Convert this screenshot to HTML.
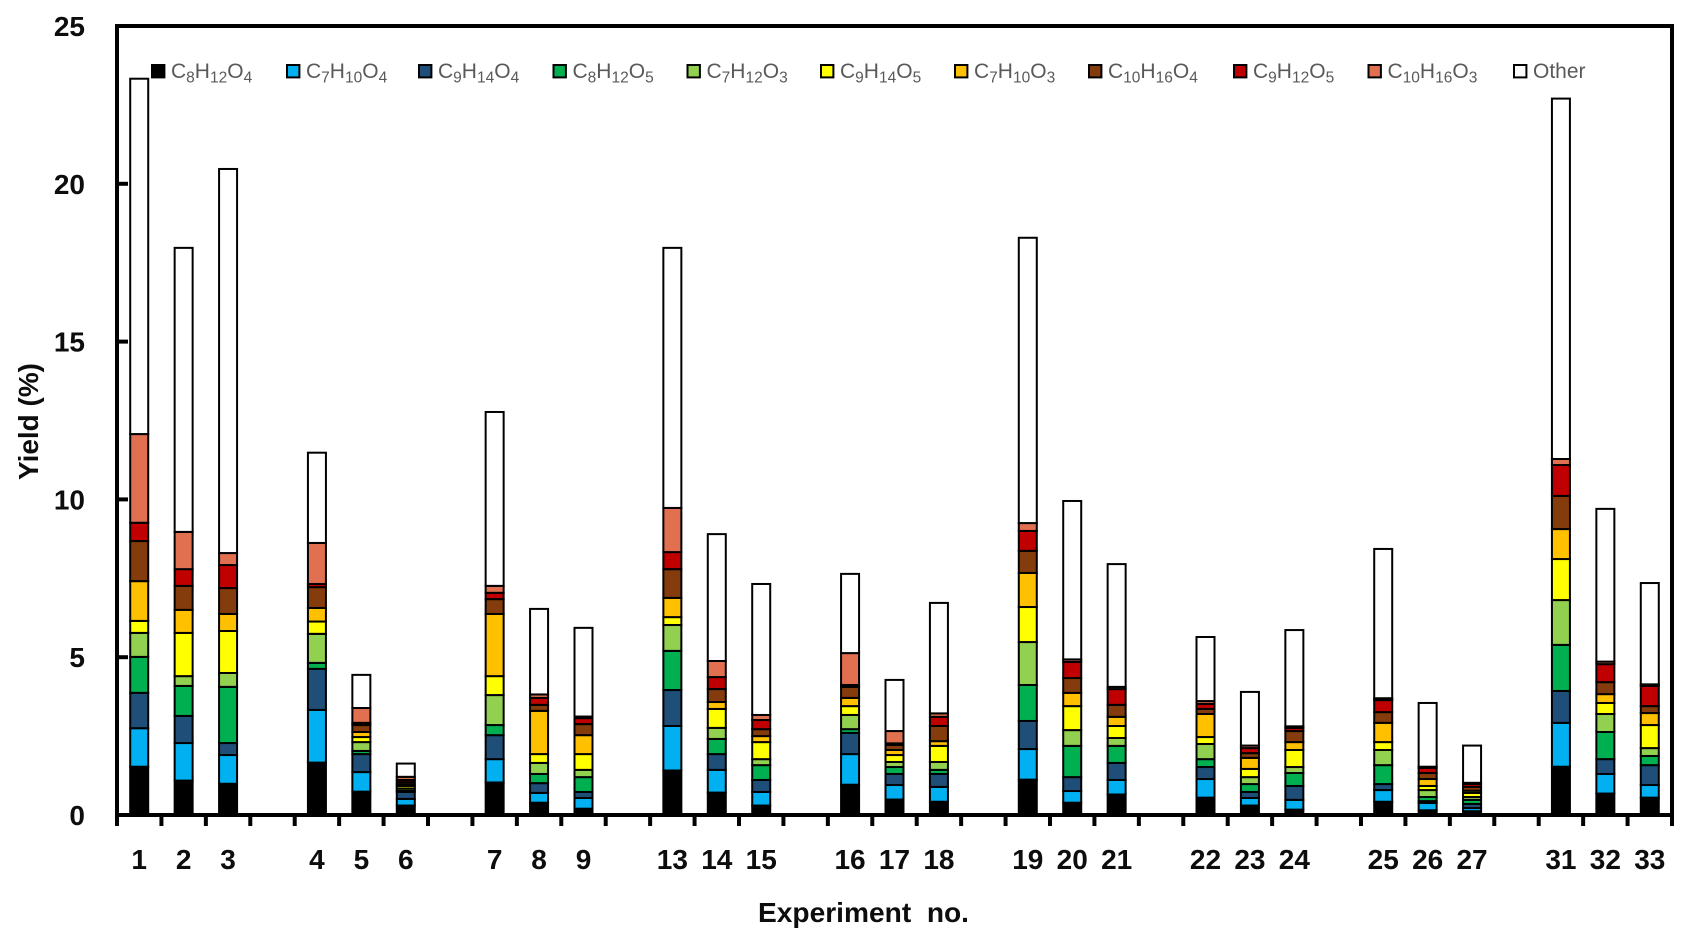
<!DOCTYPE html>
<html lang="en">
<head>
<meta charset="utf-8">
<title>Yield by experiment</title>
<style>
html,body{margin:0;padding:0;background:#fff;width:1689px;height:943px;overflow:hidden}
svg{display:block}
text{font-family:"Liberation Sans",sans-serif}
</style>
</head>
<body>
<svg id="chart" xmlns="http://www.w3.org/2000/svg" width="1689" height="943" viewBox="0 0 1689 943">
  <rect x="0" y="0" width="1689" height="943" fill="#ffffff"/>
  <g id="bars"></g>
  <g id="axes"></g>
  <g id="legend"></g>
  <text transform="translate(38 421.5) rotate(-90)" text-anchor="middle" font-size="28" font-weight="700" fill="#0d0d0d" textLength="117" lengthAdjust="spacingAndGlyphs">Yield (%)</text>
  <text x="863.5" y="922" text-anchor="middle" font-size="28" font-weight="700" fill="#0d0d0d" textLength="211" lengthAdjust="spacingAndGlyphs" xml:space="preserve">Experiment  no.</text>
</svg>
<script>
// Category slots along the x axis; "" marks an empty spacer slot.
var categories = ["1","2","3","","4","5","6","","7","8","9","","13","14","15","","16","17","18","","19","20","21","","22","23","24","","25","26","27","","31","32","33"];
var yTicks = [0,5,10,15,20,25];

// Yield (%) per experiment, one array per compound, bottom of the stack first.
var c8h12o4  = [1.53,1.09,0.99,1.66,.74,.30,1.03,.39,.20,1.41,.71,.30,.96,.49,.42,1.12,.39,.65,.55,.30,.17,.42,.15,.12,1.53,.68,.55];
var c7h10o4  = [1.22,1.19,.91,1.67,.62,.21,.74,.31,.34,1.41,.72,.43,.97,.46,.47,.97,.37,.46,.59,.24,.31,.37,.23,.10,1.39,.62,.40];
var c9h14o4  = [1.12,.86,.38,1.30,.57,.22,.76,.31,.19,1.14,.50,.38,.67,.35,.41,.89,.44,.54,.38,.19,.44,.19,.06,.13,1.01,.47,.63];
var c8h12o5  = [1.14,.95,1.78,.19,.10,.04,.32,.29,.47,1.24,.48,.47,.12,.22,.13,1.14,.99,.54,.25,.25,.41,.60,.13,.13,1.46,.86,.29];
var c7h12o3  = [.76,.31,.44,.92,.28,.07,.95,.35,.23,.82,.35,.19,.45,.16,.25,1.36,.50,.25,.48,.22,.19,.48,.22,.09,1.42,.57,.25];
var c9h14o5  = [.38,1.37,1.33,.39,.16,.08,.60,.28,.50,.25,.60,.54,.28,.22,.51,1.11,.76,.38,.22,.26,.54,.25,.13,.13,1.30,.35,.73];
var c7h10o3  = [1.26,.73,.54,.43,.16,.05,1.97,1.37,.60,.61,.22,.19,.26,.16,.15,1.08,.42,.29,.73,.35,.25,.61,.22,.07,.95,.28,.38];
var c10h16o4 = [1.27,.76,.82,.66,.22,.07,.47,.19,.35,.91,.41,.22,.35,.16,.48,.70,.47,.38,.16,.15,.35,.34,.19,.12,1.05,.38,.22];
var c9h12o5  = [.58,.53,.73,.10,.07,.07,.20,.22,.19,.54,.38,.29,.06,.05,.29,.63,.51,.50,.16,.16,.10,.38,.16,.09,.98,.57,.64];
var c10h16o3 = [2.81,1.18,.38,1.30,.47,.10,.22,.11,.05,1.40,.51,.16,1.01,.39,.11,.25,.08,.07,.09,.08,.05,.06,.04,.04,.19,.08,.05];
var other    = [11.26,9.00,12.17,2.86,1.05,.42,5.51,2.71,2.81,8.24,4.02,4.15,2.51,1.62,3.50,9.04,5.02,3.89,2.03,1.70,3.05,4.73,2.02,1.18,11.42,4.84,3.21];

var seriesValues = [c8h12o4,c7h10o4,c9h14o4,c8h12o5,c7h12o3,c9h14o5,c7h10o3,c10h16o4,c9h12o5,c10h16o3,other];
var seriesLabels = ["C8H12O4","C7H10O4","C9H14O4","C8H12O5","C7H12O3","C9H14O5","C7H10O3","C10H16O4","C9H12O5","C10H16O3","Other"];
var seriesColors = ["#000000","#00B0F0","#1F4E79","#00B050","#92D050","#FFFF00","#FFC000","#843C0C","#C00000","#E07050","#FFFFFF"];

var NS = "http://www.w3.org/2000/svg";
var plot = {left:117, right:1672, top:26, bottom:815};
var yMax = 25;
var barWidth = 18;
var slotWidth = (plot.right - plot.left) / categories.length;

function xBand(i){ return plot.left + i * slotWidth; }
function xCenter(i){ return xBand(i) + slotWidth / 2; }
function yScale(v){ return plot.bottom - (v / yMax) * (plot.bottom - plot.top); }
function make(tag, parent){
  var el = document.createElementNS(NS, tag);
  parent.appendChild(el);
  return el;
}
function slug(s){ return s.toLowerCase(); }

// Stacked bars
var barsG = document.getElementById("bars");
var barIndex = 0;
categories.forEach(function(cat, i){
  if (cat === "") return;
  var cum = 0;
  var stack = make("g", barsG);
  
  
  for (var s = 0; s < seriesValues.length; s++){
    var v = seriesValues[s][barIndex];
    var y0 = yScale(cum);
    var y1 = yScale(cum + v);
    var r = make("rect", stack);
    
    
    r.setAttribute("x", xCenter(i) - barWidth / 2);
    r.setAttribute("y", y1);
    r.setAttribute("width", barWidth);
    r.setAttribute("height", Math.max(y0 - y1, 0));
    r.setAttribute("fill", seriesColors[s]);
    r.setAttribute("stroke", "#000000");
    r.setAttribute("stroke-width", "2");
    cum += v;
  }
  barIndex++;
});

// Axes, ticks, tick labels
var axesG = document.getElementById("axes");
var frame = make("path", axesG);


frame.setAttribute("d", "M" + plot.left + " " + plot.bottom + "V" + plot.top + "H" + plot.right + "V" + plot.bottom + "Z");
frame.setAttribute("fill", "none");
frame.setAttribute("stroke", "#000000");
frame.setAttribute("stroke-width", "4");

yTicks.forEach(function(t){
  var ln = make("line", axesG);
  
  
  ln.setAttribute("x1", plot.left);
  ln.setAttribute("x2", plot.left + 11);
  ln.setAttribute("y1", yScale(t));
  ln.setAttribute("y2", yScale(t));
  ln.setAttribute("stroke", "#000000");
  ln.setAttribute("stroke-width", "4");
  var tx = make("text", axesG);
  
  
  tx.setAttribute("x", 85);
  tx.setAttribute("y", yScale(t) + 10);
  tx.setAttribute("text-anchor", "end");
  tx.setAttribute("font-size", "28");
  tx.setAttribute("font-weight", "700");
  tx.setAttribute("fill", "#0d0d0d");
  tx.textContent = String(t);
});

for (var k = 0; k <= categories.length; k++){
  var xt = make("line", axesG);
  
  
  xt.setAttribute("x1", xBand(k));
  xt.setAttribute("x2", xBand(k));
  xt.setAttribute("y1", plot.bottom);
  xt.setAttribute("y2", plot.bottom + 11);
  xt.setAttribute("stroke", "#000000");
  xt.setAttribute("stroke-width", "4");
}
categories.forEach(function(cat, i){
  if (cat === "") return;
  var lb = make("text", axesG);
  
  
  lb.setAttribute("x", xCenter(i));
  lb.setAttribute("y", 869);
  lb.setAttribute("text-anchor", "middle");
  lb.setAttribute("font-size", "28");
  lb.setAttribute("font-weight", "700");
  lb.setAttribute("fill", "#0d0d0d");
  lb.textContent = cat;
});

// Legend
var legendG = document.getElementById("legend");
var legendX = [151,286,418,552.5,686.5,820,954,1088,1233,1367.5,1513];
seriesLabels.forEach(function(label, s){
  var entry = make("g", legendG);
  
  
  var sw = make("rect", entry);
  
  
  sw.setAttribute("x", legendX[s] + 1);
  sw.setAttribute("y", 65);
  sw.setAttribute("width", 12.4);
  sw.setAttribute("height", 12.4);
  sw.setAttribute("fill", seriesColors[s]);
  sw.setAttribute("stroke", "#000000");
  sw.setAttribute("stroke-width", "2");
  var t = make("text", entry);
  
  
  t.setAttribute("x", legendX[s] + 20);
  t.setAttribute("y", 78);
  t.setAttribute("fill", "#595959");
  t.setAttribute("font-size", "21");
  var parts = label.match(/[A-Za-z]+|[0-9]+/g);
  var wasSub = false;
  parts.forEach(function(p){
    var isSub = /^[0-9]/.test(p);
    var ts = make("tspan", t);
    ts.setAttribute("font-size", isSub ? "15.5" : "21");
    ts.setAttribute("dy", isSub ? "4.5" : (wasSub ? "-4.5" : "0"));
    ts.textContent = p;
    wasSub = isSub;
  });
});
</script>
</body>
</html>
